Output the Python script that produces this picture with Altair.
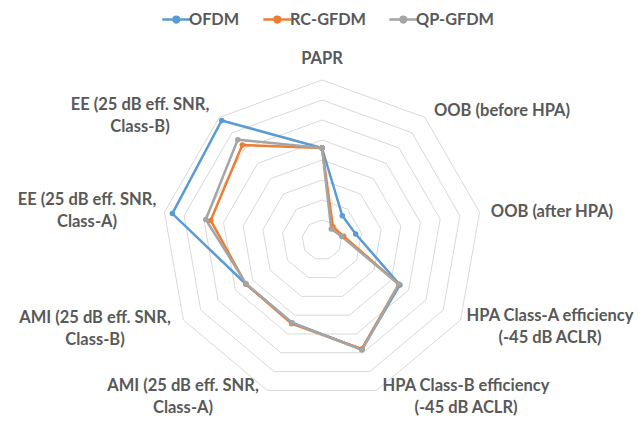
import altair as alt
import pandas as pd
import numpy as np

# ---- data ----
categories = [
    "PAPR",
    "OOB (before HPA)",
    "OOB (after HPA)",
    "HPA Class-A efficiency\n(-45 dB ACLR)",
    "HPA Class-B efficiency\n(-45 dB ACLR)",
    "AMI (25 dB eff. SNR,\nClass-A)",
    "AMI (25 dB eff. SNR,\nClass-B)",
    "EE (25 dB eff. SNR,\nClass-A)",
    "EE (25 dB eff. SNR,\nClass-B)",
]
series_names = ["OFDM", "RC-GFDM", "QP-GFDM"]
ofdm = [4.6, 1.58, 1.71, 4.5, 5.82, 4.4, 4.4, 7.6, 7.8]
rc_gfdm = [4.6, 0.85, 1.1, 4.43, 5.8, 4.45, 4.4, 5.65, 6.2]
qp_gfdm = [4.6, 0.72, 1.0, 4.43, 5.85, 4.4, 4.38, 5.9, 6.55]
ring_levels = [1, 2, 3, 4, 5, 6, 7, 8]
colors = ["#5B9BD5", "#ED7D31", "#A5A5A5"]

# label placement: pixel offset of each label's first line from the radar centre
label_offsets_px = [
    (0, -181), (180, -129), (230, -28), (228, 76), (144, 146),
    (-139, 146), (-227, 78), (-235, -40), (-182, -135),
]

n = len(categories)
PX = 20.0  # pixels per unit

rows = []
for name, vals in zip(series_names, [ofdm, rc_gfdm, qp_gfdm]):
    for i in range(n + 1):
        rows.append({"series": name, "idx": i, "value": vals[i % n]})
df = pd.DataFrame(rows)

ring_rows = []
for r in ring_levels:
    for i in range(n + 1):
        ring_rows.append({"ring": r, "idx": i, "value": r})
rings = pd.DataFrame(ring_rows)

labels = pd.DataFrame({
    "label": categories,
    "lx": [o[0] / PX for o in label_offsets_px],
    "ly": [-o[1] / PX for o in label_offsets_px],
})

xs = alt.Scale(domain=[-15.7, 15.6], nice=False, zero=False)
ys = alt.Scale(domain=[-8.8, 11.6], nice=False, zero=False)

def polar(ch):
    return ch.transform_calculate(
        ang="datum.idx * 2 * PI / %d" % n
    ).transform_calculate(
        px="datum.value * sin(datum.ang)",
        py="datum.value * cos(datum.ang)",
    )

grid = polar(alt.Chart(rings)).mark_line(color="#D9D9D9", strokeWidth=1).encode(
    x=alt.X("px:Q", scale=xs, axis=None),
    y=alt.Y("py:Q", scale=ys, axis=None),
    detail="ring:N",
    order="idx:Q",
)

sym = "M-0.8,0L1.2,0M0,0A0.2,0.2 0 1,1 0.4,0A0.2,0.2 0 1,1 0,0Z"
color_enc = alt.Color(
    "series:N",
    scale=alt.Scale(domain=series_names, range=colors),
    legend=alt.Legend(
        title=None, orient="none", direction="horizontal",
        legendX=150, legendY=-4,
        symbolType=sym, symbolSize=784, symbolStrokeWidth=2.5,
        labelFont="Lato", labelFontWeight="bold", labelFontSize=16.3,
        labelColor="#595959", labelOffset=0, columnPadding=18,
    ),
)

lines = polar(alt.Chart(df)).mark_line(strokeWidth=2.5).encode(
    x=alt.X("px:Q", scale=xs, axis=None),
    y=alt.Y("py:Q", scale=ys, axis=None),
    color=color_enc,
    order="idx:Q",
)

points = polar(alt.Chart(df)).mark_point(filled=True, size=30, opacity=1).encode(
    x=alt.X("px:Q", scale=xs, axis=None),
    y=alt.Y("py:Q", scale=ys, axis=None),
    color=color_enc,
)

text = alt.Chart(labels).mark_text(
    font="Lato", fontWeight="bold", fontSize=16.5, color="#595959",
    align="center", baseline="middle", lineBreak="\n", lineHeight=22,
).encode(
    x=alt.X("lx:Q", scale=xs, axis=None),
    y=alt.Y("ly:Q", scale=ys, axis=None),
    text="label:N",
)

chart = alt.layer(grid, lines, points, text).properties(
    width=626, height=408, padding=0, autosize="none",
).configure_view(stroke=None)

chart.save("out.html", embed_options={"renderer": "svg", "actions": False})
